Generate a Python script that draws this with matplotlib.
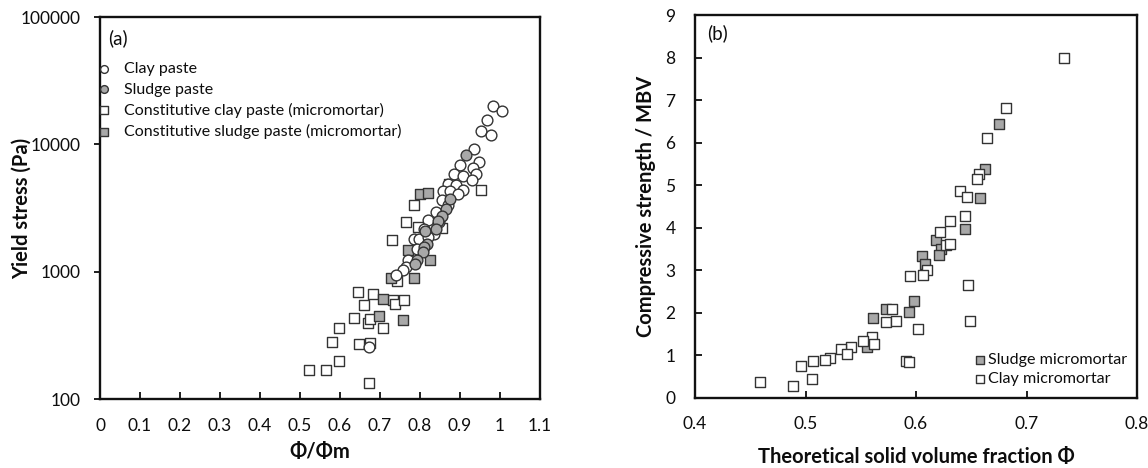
import matplotlib

matplotlib.use("Agg")
import matplotlib.pyplot as plt

plt.rcParams["font.family"] = ["Lato", "DejaVu Sans"]

# (a) yield stress vs normalised solid fraction
clay_x = [0.982, 1.006, 0.967, 0.952, 0.978, 0.934, 0.947, 0.899, 0.932, 0.885,
          0.908, 0.941, 0.930, 0.871, 0.890, 0.908, 0.858, 0.876, 0.895, 0.856,
          0.871, 0.839, 0.821, 0.848, 0.811, 0.835, 0.784, 0.798, 0.821, 0.793,
          0.770, 0.765, 0.758, 0.739, 0.673]
clay_y = [19900, 18200, 15400, 12650, 11900, 9140, 7280, 6930, 6460, 5820,
          5650, 5820, 5220, 4920, 4830, 4410, 4290, 4290, 4110, 3640,
          3330, 2950, 2540, 2470, 2180, 1990, 1790, 1820, 1860, 1520,
          1234, 1094, 1030, 942, 257]
sludge_x = [0.916, 0.875, 0.864, 0.856, 0.845, 0.839, 0.813, 0.818, 0.811, 0.807,
            0.792, 0.788]
sludge_y = [8300, 3710, 3110, 2760, 2520, 2170, 2085, 1660, 1560, 1425,
            1230, 1140]
cclay_x = [0.953, 0.784, 0.765, 0.794, 0.856, 0.729, 0.873, 0.742, 0.646, 0.683,
           0.660, 0.733, 0.738, 0.759, 0.636, 0.670, 0.674, 0.708, 0.597, 0.581,
           0.647, 0.676, 0.598, 0.522, 0.565, 0.673]
cclay_y = [4390, 3365, 2450, 2240, 2185, 1780, 4890, 850, 693, 673,
           545, 596, 561, 596, 436, 396, 428, 358, 364, 278,
           270, 276, 200, 169, 169, 134]
csludge_x = [0.801, 0.819, 0.769, 0.824, 0.727, 0.784, 0.708, 0.698, 0.757]
csludge_y = [4040, 4160, 1470, 1240, 891, 897, 615, 447, 416]

# (b) compressive strength / MBV vs solid volume fraction
sm_x = [0.675, 0.662, 0.658, 0.644, 0.618, 0.623, 0.621, 0.605, 0.608, 0.598,
        0.594, 0.573, 0.561, 0.556]
sm_y = [6.44, 5.37, 4.69, 3.98, 3.72, 3.49, 3.35, 3.33, 3.14, 2.28,
        2.03, 2.10, 1.88, 1.19]
cm_x = [0.734, 0.681, 0.664, 0.657, 0.655, 0.640, 0.646, 0.644, 0.631, 0.622,
        0.627, 0.631, 0.610, 0.595, 0.606, 0.647, 0.649, 0.578, 0.573, 0.582,
        0.602, 0.560, 0.562, 0.552, 0.541, 0.532, 0.538, 0.522, 0.518, 0.507,
        0.496, 0.506, 0.489, 0.459, 0.591, 0.594]
cm_y = [7.98, 6.82, 6.10, 5.27, 5.14, 4.87, 4.73, 4.27, 4.16, 3.89,
        3.59, 3.61, 3.01, 2.86, 2.88, 2.65, 1.81, 2.10, 1.78, 1.81,
        1.62, 1.44, 1.27, 1.33, 1.21, 1.15, 1.04, 0.94, 0.90, 0.86,
        0.75, 0.45, 0.29, 0.38, 0.86, 0.84]

xticks_a = [0, 0.1, 0.2, 0.3, 0.4, 0.5, 0.6, 0.7, 0.8, 0.9, 1, 1.1]
yticks_a = [100, 1000, 10000, 100000]
xticks_b = [0.4, 0.5, 0.6, 0.7, 0.8]
yticks_b = list(range(10))

GRAY = "#a8a8a8"
EDGE = "#333333"
TXT = "#0d0d0d"

fig = plt.figure(figsize=(11.48, 4.68), dpi=100)
ax1 = fig.add_axes([100 / 1148, 1 - 399 / 468, 440 / 1148, 382 / 468])
ax2 = fig.add_axes([695 / 1148, 1 - 398 / 468, 442 / 1148, 383 / 468])

ms = 60
ax1.scatter(clay_x, clay_y, s=ms, marker="o", facecolor="white", edgecolor=EDGE,
            linewidth=1.0, zorder=4, label="Clay paste")
ax1.scatter(sludge_x, sludge_y, s=ms, marker="o", facecolor=GRAY, edgecolor=EDGE,
            linewidth=1.0, zorder=5, label="Sludge paste")
ax1.scatter(cclay_x, cclay_y, s=ms, marker="s", facecolor="white", edgecolor=EDGE,
            linewidth=1.0, zorder=2, label="Constitutive clay paste (micromortar)")
ax1.scatter(csludge_x, csludge_y, s=ms, marker="s", facecolor=GRAY, edgecolor=EDGE,
            linewidth=1.0, zorder=3, label="Constitutive sludge paste (micromortar)")
ax1.set_yscale("log")
ax1.set_xlim(0, 1.1)
ax1.set_ylim(100, 100000)
ax1.set_xticks(xticks_a)
ax1.set_xticklabels([f"{v:g}" for v in xticks_a])
ax1.set_yticks(yticks_a)
ax1.set_yticklabels([str(v) for v in yticks_a])
ax1.yaxis.set_minor_locator(matplotlib.ticker.NullLocator())
ax1.tick_params(axis="x", direction="in", length=5, width=1.3, labelsize=12.5,
                colors=TXT, pad=14)
ax1.tick_params(axis="y", direction="out", length=4, width=1.3, labelsize=12.5,
                colors=TXT, pad=10)
ax1.set_xlabel("Φ/Φm", fontsize=14.5, fontweight="bold", color=TXT)
ax1.set_ylabel("Yield stress (Pa)", fontsize=14.5, fontweight="bold", color=TXT)
ax1.xaxis.set_label_coords(0.5, -0.113)
ax1.yaxis.set_label_coords(-0.155, 0.5)
ax1.text(0.018, 0.945, "(a)", transform=ax1.transAxes, fontsize=13.5,
         ha="left", va="center", color=TXT)
ax1.legend(loc="upper left", bbox_to_anchor=(-0.005, 0.882), frameon=False,
           fontsize=11.5, handletextpad=0.85, borderaxespad=0, borderpad=0,
           labelspacing=0.38, handlelength=0.8, scatterpoints=1,
           markerscale=0.72, labelcolor=TXT)

ax2.scatter(sm_x, sm_y, s=ms, marker="s", facecolor=GRAY, edgecolor=EDGE,
            linewidth=1.0, zorder=2, label="Sludge micromortar")
ax2.scatter(cm_x, cm_y, s=ms, marker="s", facecolor="white", edgecolor=EDGE,
            linewidth=1.0, zorder=3, label="Clay micromortar")
ax2.set_xlim(0.4, 0.8)
ax2.set_ylim(0, 9)
ax2.set_xticks(xticks_b)
ax2.set_xticklabels([f"{v:g}" for v in xticks_b])
ax2.set_yticks(yticks_b)
ax2.tick_params(axis="both", direction="in", length=5, width=1.3, labelsize=12.5,
                colors=TXT)
ax2.tick_params(axis="x", pad=13)
ax2.tick_params(axis="y", pad=14)
ax2.set_xlabel("Theoretical solid volume fraction Φ", fontsize=14.5,
               fontweight="bold", color=TXT)
ax2.set_ylabel("Compressive strength / MBV", fontsize=14.5, fontweight="bold",
               color=TXT)
ax2.xaxis.set_label_coords(0.5, -0.128)
ax2.yaxis.set_label_coords(-0.088, 0.5)
ax2.text(0.027, 0.953, "(b)", transform=ax2.transAxes, fontsize=13.5,
         ha="left", va="center", color=TXT)
ax2.legend(loc="lower right", bbox_to_anchor=(0.977, 0.031), frameon=False,
           fontsize=11.6, handletextpad=0.15, borderaxespad=0, borderpad=0,
           labelspacing=0.3, handlelength=0.6, scatterpoints=1,
           markerscale=0.75, labelcolor=TXT)

for ax in (ax1, ax2):
    for sp in ax.spines.values():
        sp.set_linewidth(1.7)
        sp.set_color("#111111")

fig.savefig("out.png", dpi=100)
plt.close(fig)
